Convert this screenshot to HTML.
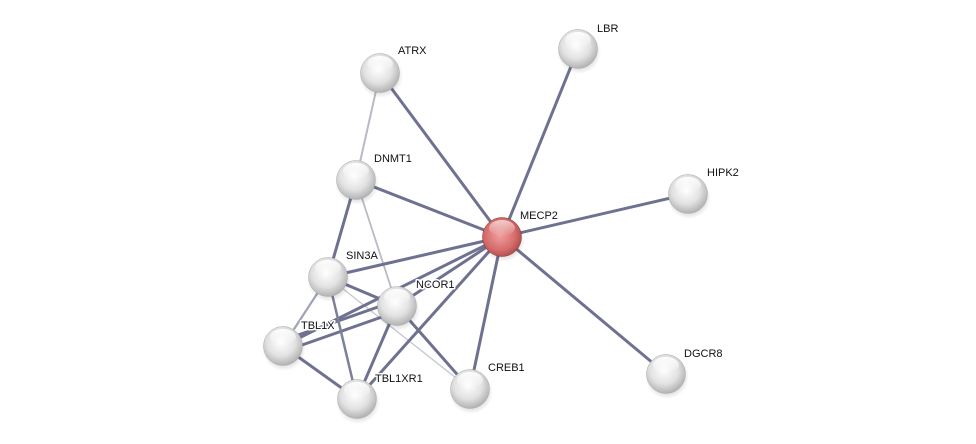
<!DOCTYPE html>
<html><head><meta charset="utf-8"><style>
html,body{margin:0;padding:0;background:#fff;}
svg{display:block;}
text{font-family:"Liberation Sans",sans-serif;font-size:11px;fill:#111;stroke:#fff;stroke-width:3px;paint-order:stroke;stroke-linejoin:round;}
</style></head><body>
<svg width="976" height="444" viewBox="0 0 976 444" xmlns="http://www.w3.org/2000/svg">
<defs>
<radialGradient id="g" cx="0.45" cy="0.4" r="0.65">
<stop offset="0" stop-color="#ffffff"/><stop offset="0.55" stop-color="#e2e2e2"/><stop offset="1" stop-color="#a8a8a8"/>
</radialGradient>
<radialGradient id="r" cx="0.45" cy="0.45" r="0.65">
<stop offset="0" stop-color="#f0a0a0"/><stop offset="0.6" stop-color="#d66b6b"/><stop offset="1" stop-color="#a04040"/>
</radialGradient>
<linearGradient id="hl" x1="0" y1="0" x2="0" y2="1">
<stop offset="0" stop-color="#fff" stop-opacity="0.95"/><stop offset="1" stop-color="#fff" stop-opacity="0"/>
</linearGradient>
<radialGradient id="sh" cx="0.5" cy="0.5" r="0.5">
<stop offset="0.6" stop-color="#000" stop-opacity="0.18"/><stop offset="1" stop-color="#000" stop-opacity="0"/>
</radialGradient>
<g id="n"><circle cx="1" cy="3" r="22" fill="url(#sh)"/><circle r="19.5" fill="url(#g)" stroke="#aaa" stroke-width="0.5"/><ellipse cx="0" cy="-9" rx="13" ry="8" fill="url(#hl)"/></g>
</defs>
<g stroke-linecap="round">
<line x1="380" y1="73" x2="356" y2="180" stroke="#b8bac8" stroke-width="2"/>
<line x1="356" y1="180" x2="397" y2="306" stroke="#b8bac8" stroke-width="1.8"/>
<line x1="328" y1="277" x2="470" y2="389" stroke="#c4c6d2" stroke-width="1.3"/>
<line x1="328" y1="277" x2="283" y2="346" stroke="#9fa3b8" stroke-width="2.2"/>
<g stroke="#6e7290" stroke-width="3">
<line x1="502" y1="237" x2="380" y2="73"/>
<line x1="502" y1="237" x2="578" y2="49"/>
<line x1="502" y1="237" x2="688" y2="194"/>
<line x1="502" y1="237" x2="666" y2="374"/>
<line x1="502" y1="237" x2="356" y2="180"/>
<line x1="502" y1="237" x2="328" y2="277"/>
<line x1="502" y1="237" x2="397" y2="306"/>
<line x1="502" y1="237" x2="283" y2="346"/>
<line x1="502" y1="237" x2="357" y2="399"/>
<line x1="502" y1="237" x2="470" y2="389"/>
<line x1="356" y1="180" x2="328" y2="277"/>
<line x1="328" y1="277" x2="397" y2="306"/>
<line x1="397" y1="306" x2="357" y2="399"/>
<line x1="283" y1="346" x2="357" y2="399"/>
<line x1="397" y1="306" x2="470" y2="389"/>
<line x1="395" y1="301" x2="281" y2="341"/>
<line x1="399" y1="311" x2="285" y2="351"/>
</g>
<line x1="328" y1="277" x2="357" y2="399" stroke="#7c809a" stroke-width="2.5"/>
</g>
<use href="#n" x="380" y="73"/>
<use href="#n" x="578" y="49"/>
<use href="#n" x="356" y="180"/>
<use href="#n" x="688" y="194"/>
<use href="#n" x="328" y="277"/>
<use href="#n" x="397" y="306"/>
<use href="#n" x="283" y="346"/>
<use href="#n" x="357" y="399"/>
<use href="#n" x="470" y="389"/>
<use href="#n" x="666" y="374"/>
<circle cx="503" cy="240" r="22" fill="url(#sh)"/>
<circle cx="502" cy="237" r="19.5" fill="url(#r)" stroke="#8a3030" stroke-width="0.5"/>
<ellipse cx="502" cy="228" rx="13" ry="8" fill="url(#hl)" opacity="0.7"/>
<text x="398" y="54">ATRX</text>
<text x="597" y="32">LBR</text>
<text x="374" y="162">DNMT1</text>
<text x="707" y="176">HIPK2</text>
<text x="520" y="219">MECP2</text>
<text x="346" y="259">SIN3A</text>
<text x="416" y="288">NCOR1</text>
<text x="301" y="329">TBL1X</text>
<text x="375" y="382">TBL1XR1</text>
<text x="488" y="371">CREB1</text>
<text x="684" y="357">DGCR8</text>
</svg>
</body></html>
